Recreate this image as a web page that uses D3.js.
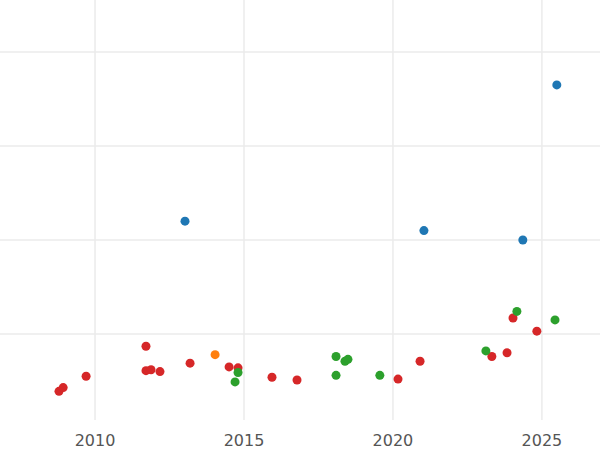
<!DOCTYPE html>
<html><head><meta charset="utf-8">
<script src="https://cdn.jsdelivr.net/npm/d3@7"></script>
<style>body{margin:0;background:#fff}</style></head>
<body><svg id="c" width="600" height="450"></svg>
<script>
const blueX=[2013.02,2021.04,2024.36,2025.50], blueY=[2.20,2.10,2.00,3.65];
const orangeX=[2014.03], orangeY=[0.78];
const redX=[2008.79,2008.93,2009.70,2011.71,2011.71,2011.88,2012.18,2013.19,2014.50,2014.80,2015.94,2016.78,2020.17,2020.91,2023.32,2023.83,2024.03,2024.83];
const redY=[0.39,0.43,0.55,0.87,0.61,0.62,0.60,0.69,0.65,0.64,0.54,0.51,0.52,0.71,0.76,0.80,1.17,1.03];
const greenX=[2014.70,2014.80,2018.09,2018.09,2018.39,2018.49,2019.56,2023.12,2024.16,2025.44];
const greenY=[0.49,0.59,0.76,0.56,0.71,0.73,0.56,0.82,1.24,1.15];
const xTicks=[2010,2015,2020,2025];
const yTicks=[1,2,3,4];
const svg=d3.select("#c");
const x=d3.scaleLinear().domain([2006.81,2026.95]).range([0,600]);
const y=d3.scaleLinear().domain([0.085,4.553]).range([420,0]);
svg.append("g").selectAll("line").data(xTicks).join("line")
 .attr("x1",d=>x(d)).attr("x2",d=>x(d)).attr("y1",0).attr("y2",420).attr("stroke","#ebebeb").attr("stroke-width",1.5);
svg.append("g").selectAll("line").data(yTicks).join("line")
 .attr("x1",0).attr("x2",600).attr("y1",d=>y(d)).attr("y2",d=>y(d)).attr("stroke","#ebebeb").attr("stroke-width",1.5);
svg.append("g").selectAll("text").data(xTicks).join("text")
 .attr("x",d=>x(d)).attr("y",446).attr("text-anchor","middle").attr("fill","#555")
 .attr("font-family","DejaVu Sans").attr("font-size",16).text(d=>d);
const series=[[blueX,blueY,"#1f77b4"],[orangeX,orangeY,"#ff7f0e"],[redX,redY,"#d62728"],[greenX,greenY,"#2ca02c"]];
series.forEach(([xs,ys,c])=>{
 svg.append("g").selectAll("circle").data(xs).join("circle")
  .attr("cx",d=>x(d)).attr("cy",(d,i)=>y(ys[i])).attr("r",4.5).attr("fill",c);
});
</script></body></html>
